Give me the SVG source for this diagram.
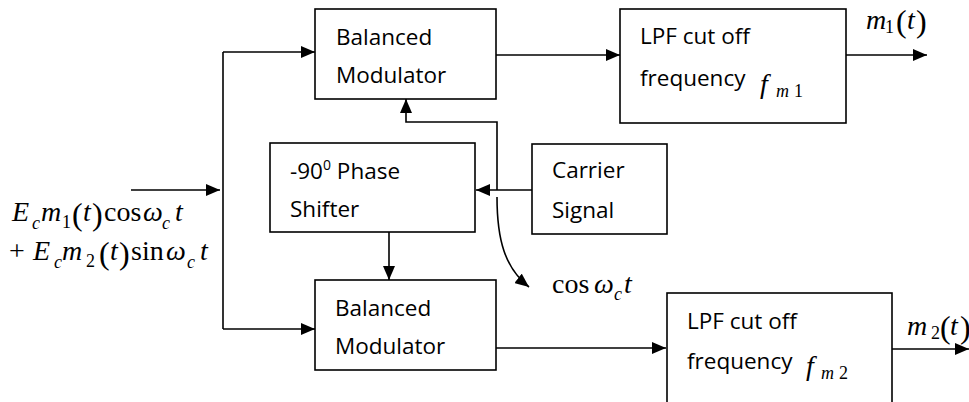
<svg xmlns="http://www.w3.org/2000/svg" width="969" height="402" viewBox="0 0 969 402">
<style>
.box{fill:#fff;stroke:#000;stroke-width:1.6}
.lbl{font-family:"Open Sans","Liberation Sans",sans-serif;font-size:22.5px;fill:#000}
.m{font-family:"Liberation Serif","Times New Roman",serif;font-size:28px;fill:#000}
.i{font-style:italic}
.s{font-size:18px}
.p{font-size:32px}
.w{fill:none;stroke:#000;stroke-width:1.6}
</style>
<defs>
<marker id="ah" markerUnits="userSpaceOnUse" markerWidth="14" markerHeight="12" refX="14" refY="6" orient="auto">
<path d="M0,0 L14,6 L0,12 Z" fill="#000"/>
</marker>
</defs>
<rect width="969" height="402" fill="#fff"/>
<g id="connectors">
<path class="w" d="M131,190 L220,190" marker-end="url(#ah)"/>
<path class="w" d="M223,52 L223,329"/>
<path class="w" d="M223,52 L315,52" marker-end="url(#ah)"/>
<path class="w" d="M223,329 L315,329" marker-end="url(#ah)"/>
<path class="w" d="M496,55 L620,55" marker-end="url(#ah)"/>
<path class="w" d="M846,55 L927,55" marker-end="url(#ah)"/>
<path class="w" d="M532,190 L476,190" marker-end="url(#ah)"/>
<path class="w" d="M497,190 L497,122 L406,122 L406,99" marker-end="url(#ah)"/>
<path class="w" d="M389,232 L389,280" marker-end="url(#ah)"/>
<path class="w" d="M497,197 C497,240 505,268 529,287" marker-end="url(#ah)"/>
<path class="w" d="M496,348 L666,348" marker-end="url(#ah)"/>
<path class="w" d="M892,349 L969,349" marker-end="url(#ah)"/>
</g>
<g id="bm1">
<rect class="box" x="315" y="9" width="181" height="90"/>
<text class="lbl" x="336" y="45">Balanced</text>
<text class="lbl" x="336" y="83">Modulator</text>
</g>
<g id="lpf1">
<rect class="box" x="620" y="9" width="226" height="114"/>
<text class="lbl" x="640" y="44">LPF cut off</text>
<text class="lbl" x="640" y="86">frequency</text>
<text class="m"><tspan class="i" x="760" y="93">f</tspan><tspan class="i s" x="776" y="97">m</tspan><tspan class="s" x="794" y="97">1</tspan></text>
</g>
<g id="phase">
<rect class="box" x="270" y="143" width="205" height="89"/>
<text class="lbl" x="290" y="179">-90<tspan font-size="14" dy="-9">0</tspan><tspan dy="9"> Phase</tspan></text>
<text class="lbl" x="290" y="217">Shifter</text>
</g>
<g id="carrier">
<rect class="box" x="532" y="144" width="135" height="90"/>
<text class="lbl" x="552" y="178">Carrier</text>
<text class="lbl" x="552" y="218">Signal</text>
</g>
<g id="bm2">
<rect class="box" x="315" y="280" width="181" height="90"/>
<text class="lbl" x="335" y="316">Balanced</text>
<text class="lbl" x="335" y="354">Modulator</text>
</g>
<g id="lpf2">
<rect class="box" x="667" y="293" width="225" height="120"/>
<text class="lbl" x="687" y="329">LPF cut off</text>
<text class="lbl" x="687" y="369">frequency</text>
<text class="m"><tspan class="i" x="806" y="375">f</tspan><tspan class="i s" x="821" y="379">m</tspan><tspan class="s" x="839" y="379">2</tspan></text>
</g>
<g id="labels">
<text class="m"><tspan class="i" x="12" y="221">E</tspan><tspan class="i s" x="32" y="229">c</tspan><tspan class="i" x="41" y="221">m</tspan><tspan class="s" x="62" y="228">1</tspan><tspan class="p" x="72" y="225">(</tspan><tspan class="i" x="83" y="221">t</tspan><tspan class="p" x="92" y="225">)</tspan><tspan x="104" y="221">cos</tspan><tspan class="i" x="143" y="221">ω</tspan><tspan class="i s" x="162" y="229">c</tspan><tspan class="i" x="175" y="221">t</tspan></text>
<text class="m"><tspan x="9" y="260">+</tspan><tspan class="i" x="33" y="260">E</tspan><tspan class="i s" x="54" y="268">c</tspan><tspan class="i" x="62" y="260">m</tspan><tspan class="s" x="86" y="267">2</tspan><tspan class="p" x="99" y="264">(</tspan><tspan class="i" x="110" y="260">t</tspan><tspan class="p" x="119" y="264">)</tspan><tspan x="131" y="260">sin</tspan><tspan class="i" x="166" y="260">ω</tspan><tspan class="i s" x="187" y="268">c</tspan><tspan class="i" x="200" y="260">t</tspan></text>
<text class="m"><tspan x="552" y="293">cos</tspan><tspan class="i" x="594" y="293">ω</tspan><tspan class="i s" x="614" y="300">c</tspan><tspan class="i" x="624" y="293">t</tspan></text>
<text class="m"><tspan class="i" x="866" y="29">m</tspan><tspan class="s" x="885" y="33">1</tspan><tspan class="p" x="896" y="32">(</tspan><tspan class="i" x="907" y="29">t</tspan><tspan class="p" x="916" y="32">)</tspan></text>
<text class="m"><tspan class="i" x="907" y="335">m</tspan><tspan class="s" x="931" y="339">2</tspan><tspan class="p" x="940" y="338">(</tspan><tspan class="i" x="950" y="335">t</tspan><tspan class="p" x="960" y="338">)</tspan></text>
</g>
</svg>
